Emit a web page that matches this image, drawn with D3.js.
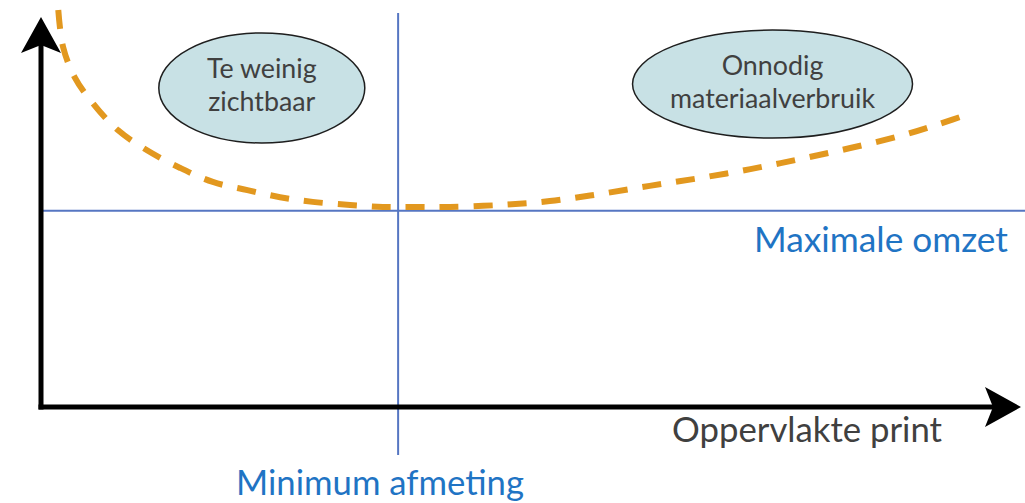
<!DOCTYPE html>
<html>
<head>
<meta charset="utf-8">
<script src="https://cdn.jsdelivr.net/npm/d3@7"></script>
<style>
  html, body { margin: 0; padding: 0; background: #fff; }
  svg { display: block; }
  text { font-family: Lato, "Open Sans", sans-serif; }
</style>
</head>
<body>
<svg id="chart" width="1025" height="503"></svg>
<script>
// Cost curve: relative "cost" against printed surface area (arbitrary units 0–100)
const curveX = [1.8, 2.3, 3.5, 5.4, 8.0, 11.0, 14.5, 17.9, 21.5, 24.9, 28.3, 32.2, 35.6,
                38.8, 42.6, 47.8, 53.0, 58.2, 63.4, 68.6, 73.9, 79.1, 84.3, 89.5, 93.6, 97.0];
const curveY = [101.8, 92.3, 84.6, 77.9, 71.0, 65.9, 61.3, 57.7, 55.6, 53.8, 52.6, 51.8, 51.3,
                51.3, 51.3, 51.8, 52.8, 54.6, 56.7, 58.7, 61.0, 63.6, 66.4, 69.5, 72.6, 75.4];

// Reference lines
const minimumSize = 37.2;     // vertical: "Minimum afmeting"
const maximumRevenue = 50.3;  // horizontal: "Maximale omzet"

// Zone annotations
const zoneNames = [["Te weinig", "zichtbaar"], ["Onnodig", "materiaalverbruik"]];
const zoneX = [23.0, 76.2];
const zoneY = [81.8, 82.8];

const axisXLabel = "Oppervlakte print";
const refXLabel = "Minimum afmeting";
const refYLabel = "Maximale omzet";

const svg = d3.select("#chart");
const x = d3.scaleLinear().domain([0, 100]).range([41, 1001]);
const y = d3.scaleLinear().domain([0, 100]).range([407, 17]);

const blue = "#5676c2";
const textBlue = "#1f74c4";
const grey = "#404040";

// Fit a text element to a target width by scaling its font size (capped)
function fit(sel, width, maxSize) {
  const w = sel.node().getComputedTextLength();
  const fs = parseFloat(sel.attr("font-size"));
  sel.attr("font-size", Math.min(maxSize || 99, fs * width / w));
  return sel;
}

// Reference lines
svg.append("line")
  .attr("x1", x(0)).attr("x2", 1025)
  .attr("y1", y(maximumRevenue)).attr("y2", y(maximumRevenue))
  .attr("stroke", blue).attr("stroke-width", 2);
svg.append("line")
  .attr("x1", x(minimumSize)).attr("x2", x(minimumSize))
  .attr("y1", 13).attr("y2", 455)
  .attr("stroke", blue).attr("stroke-width", 2);

// Axes with arrow heads
svg.append("line")
  .attr("x1", x(0)).attr("x2", x(0))
  .attr("y1", y(0) + 2.5).attr("y2", y(100) + 20)
  .attr("stroke", "#000").attr("stroke-width", 5);
svg.append("line")
  .attr("x1", x(0) - 2.5).attr("x2", x(100) + 2)
  .attr("y1", y(0)).attr("y2", y(0))
  .attr("stroke", "#000").attr("stroke-width", 5);

const yTip = [x(0), y(100)];
svg.append("path")
  .attr("d", `M${yTip[0]},${yTip[1]} L${yTip[0] + 20},${yTip[1] + 36} L${yTip[0]},${yTip[1] + 28} L${yTip[0] - 20},${yTip[1] + 36} Z`)
  .attr("fill", "#000");
const xTip = [x(100) + 20, y(0)];
svg.append("path")
  .attr("d", `M${xTip[0]},${xTip[1]} L${xTip[0] - 36},${xTip[1] - 20} L${xTip[0] - 28},${xTip[1]} L${xTip[0] - 36},${xTip[1] + 20} Z`)
  .attr("fill", "#000");

// Zone ellipses with labels
const rx = [103, 140], ry = [55, 54];
zoneNames.forEach((lines, i) => {
  const cx = x(zoneX[i]), cy = y(zoneY[i]);
  svg.append("ellipse")
    .attr("cx", cx).attr("cy", cy).attr("rx", rx[i]).attr("ry", ry[i])
    .attr("fill", "#c8e1e5").attr("stroke", "#1e1e1e").attr("stroke-width", 1.5);
});
const zoneText = [
  { w: 120, by: 77.5 },
  { w: 120, by: 110.5 },
  { w: 114, by: 74.5 },
  { w: 225, by: 107.5 }
];
zoneText.forEach((d, k) => {
  const i = k < 2 ? 0 : 1;
  const t = svg.append("text")
    .attr("x", x(zoneX[i])).attr("y", d.by)
    .attr("text-anchor", "middle")
    .attr("font-size", 24).attr("fill", grey)
    .text(zoneNames[i][k % 2]);
  fit(t, d.w, 26.8);
});

// Cost curve
const pts = curveX.map((v, i) => [x(v), y(curveY[i])]);
svg.append("path")
  .attr("d", d3.line().curve(d3.curveCatmullRom.alpha(0.5))(pts))
  .attr("fill", "none")
  .attr("stroke", "#e2981f")
  .attr("stroke-width", 6)
  .attr("stroke-dasharray", "19,15");

// Labels
fit(svg.append("text")
  .attr("x", 1008).attr("y", 252).attr("text-anchor", "end")
  .attr("font-size", 28).attr("fill", textBlue).text(refYLabel), 254);
fit(svg.append("text")
  .attr("x", 942).attr("y", 442).attr("text-anchor", "end")
  .attr("font-size", 28).attr("fill", grey).text(axisXLabel), 270);
fit(svg.append("text")
  .attr("x", 380).attr("y", 495).attr("text-anchor", "middle")
  .attr("font-size", 28).attr("fill", textBlue).text(refXLabel), 288);
</script>
</body>
</html>
